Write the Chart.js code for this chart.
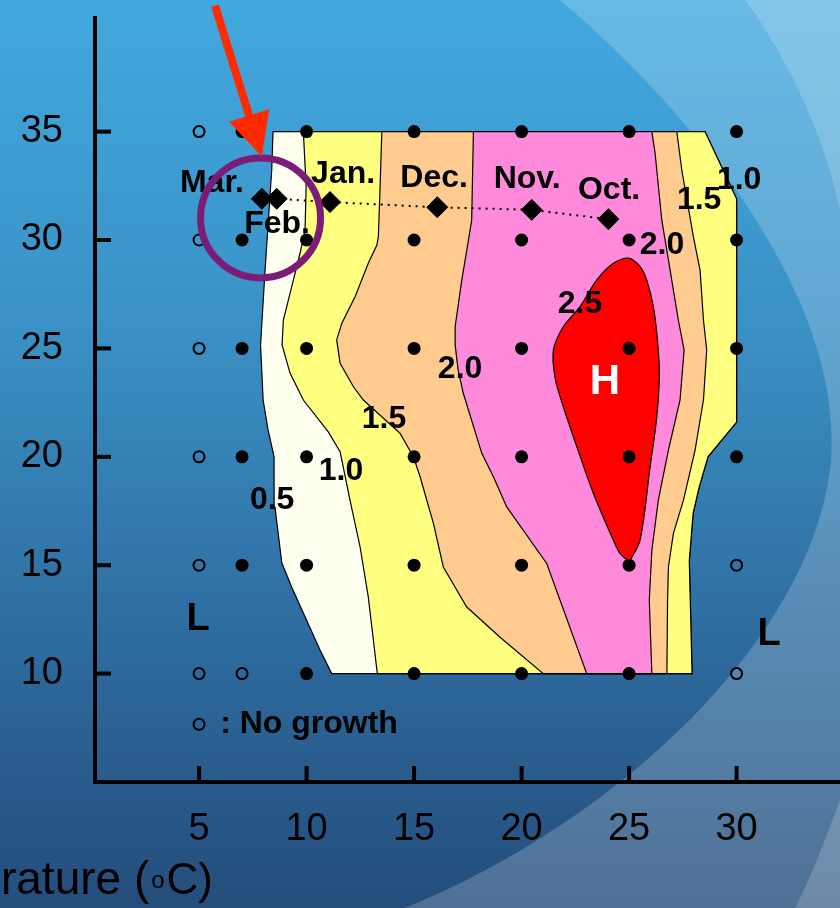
<!DOCTYPE html>
<html lang="en">
<head>
<meta charset="UTF-8">
<title>Growth contour by temperature</title>
<script src="https://cdn.jsdelivr.net/npm/chart.js"></script>
<style>
  html, body { margin: 0; padding: 0; background: #2f6ea3; overflow: hidden; }
  #chart { display: block; }
</style>
</head>
<body>
<canvas id="chart" width="840" height="908"></canvas>
<script>
// axis ticks
const xTicks = [5, 10, 15, 20, 25, 30];
const yTicks = [10, 15, 20, 25, 30, 35];

// culture grid: filled = growth, open = no growth
const grown = [
  [7, 35], [10, 35], [15, 35], [20, 35], [25, 35], [30, 35],
  [7, 30], [10, 30], [15, 30], [20, 30], [25, 30], [30, 30],
  [7, 25], [10, 25], [15, 25], [20, 25], [25, 25], [30, 25],
  [7, 20], [10, 20], [15, 20], [20, 20], [25, 20], [30, 20],
  [7, 15], [10, 15], [15, 15], [20, 15], [25, 15],
  [10, 10], [15, 10], [20, 10], [25, 10]
];
const noGrowth = [[5, 35], [5, 30], [5, 25], [5, 20], [5, 15], [5, 10], [7, 10], [30, 15], [30, 10]];
const legendMarker = [[5, 7.66]];

// monthly field conditions
const months = ['Mar.', 'Feb.', 'Jan.', 'Dec.', 'Nov.', 'Oct.'];
const monthX = [7.92, 8.61, 11.09, 16.08, 20.47, 24.04];
const monthY = [31.90, 31.90, 31.75, 31.51, 31.39, 30.96];
const monthLabelX = [5.60, 8.63, 11.70, 15.93, 20.26, 24.07];
const monthLabelY = [32.64, 30.74, 33.05, 32.87, 32.82, 32.31];

// contour levels (outline of each filled band)
const contour05 = [[8.44, 35], [28.53, 35], [30.0, 31.9], [30.0, 21.6], [28.67, 20.0], [28.26, 18.6], [27.98, 17.4], [27.8, 15.2], [27.93, 10], [11.17, 10], [10.63, 11.08], [9.31, 13.98], [8.85, 15.1], [8.53, 17.68], [8.49, 20.0], [8.21, 21.23], [7.98, 22.62], [7.86, 25.16], [8.07, 28.62], [8.38, 33.24], [8.44, 35]];
const contour10 = [[9.85, 35], [28.53, 35], [30.0, 31.9], [30.0, 21.6], [28.67, 20.0], [28.26, 18.6], [27.98, 17.4], [27.8, 15.2], [27.93, 10], [13.29, 10], [12.87, 13.54], [12.49, 15.84], [12.02, 18.0], [11.56, 20.23], [11.01, 21.15], [9.85, 22.62], [9.23, 23.86], [8.86, 25.16], [8.92, 26.31], [9.31, 27.85], [9.70, 29.40], [9.93, 30.47], [9.98, 32.47], [9.85, 35]];
const contour15 = [[13.50, 35], [27.22, 35], [27.45, 33.24], [27.99, 30.16], [28.30, 28.62], [28.46, 26.31], [28.61, 24.93], [28.46, 22.62], [28.07, 20.31], [27.53, 18.0], [27.06, 16.46], [26.83, 14.92], [26.79, 13.38], [26.76, 10], [21.01, 10], [19.0, 11.68], [17.45, 13.07], [16.36, 14.92], [15.90, 16.93], [15.28, 19.08], [14.97, 20.0], [14.35, 21.08], [12.64, 22.62], [12.18, 23.23], [11.56, 24.31], [11.40, 25.39], [11.64, 26.16], [12.26, 27.39], [12.87, 28.93], [13.27, 29.77], [13.34, 30.16], [13.42, 32.47], [13.50, 35]];
const contour20 = [[17.76, 35], [26.06, 35], [26.21, 34.0], [26.52, 30.93], [26.83, 29.08], [27.29, 26.31], [27.56, 24.93], [27.37, 22.62], [26.83, 20.31], [26.36, 18.0], [26.06, 15.69], [25.94, 13.38], [26.06, 10], [23.03, 10], [21.17, 15.08], [19.31, 17.69], [18.69, 19.08], [18.15, 20.16], [17.29, 22.93], [17.05, 24.0], [16.91, 25.16], [16.91, 26.0], [17.22, 28.16], [17.53, 30.0], [17.68, 30.93], [17.76, 35]];
const contour25 = [[25.01, 15.15], [25.51, 16.15], [25.98, 19.54], [26.29, 21.85], [26.41, 23.85], [26.32, 25.39], [26.13, 26.93], [25.82, 28.16], [25.51, 28.77], [24.97, 29.16], [24.27, 28.93], [23.50, 28.16], [22.72, 26.93], [21.94, 26.0], [21.48, 24.93], [21.56, 23.63], [21.94, 22.31], [22.57, 20.46], [23.34, 18.31], [24.27, 16.15], [24.58, 15.54], [25.01, 15.15]];

// text annotations (data coordinates)
const contourLabels = ['1.0', '1.5', '2.0', '2.5', '2.0', '1.5', '1.0', '0.5'];
const contourLabelX = [30.12, 28.26, 26.53, 22.72, 17.14, 13.60, 11.60, 8.40];
const contourLabelY = [32.77, 31.85, 29.77, 27.05, 24.05, 21.74, 19.34, 18.0];

const FONT = '"Liberation Sans", Arial, Helvetica, sans-serif';
const pts = a => a.map(([x, y]) => ({ x, y }));

function band(data, color, order, tension) {
  return {
    data: pts(data),
    showLine: true,
    fill: 'shape',
    backgroundColor: color,
    borderColor: '#000',
    borderWidth: 1.2,
    pointRadius: 0,
    tension: tension || 0,
    order: order
  };
}

// background with the light swirls
const backdrop = {
  id: 'backdrop',
  beforeDraw(chart) {
    const { ctx, width, height } = chart;
    ctx.save();
    const g = ctx.createLinearGradient(0, 0, 0, height);
    g.addColorStop(0, '#41a9df');
    g.addColorStop(0.35, '#3a92c6');
    g.addColorStop(0.7, '#2e6ca0');
    g.addColorStop(1, '#244d7b');
    ctx.fillStyle = g;
    ctx.fillRect(0, 0, width, height);

    ctx.beginPath();
    ctx.moveTo(560, 0);
    ctx.bezierCurveTo(690, 110, 850, 300, 830, 470);
    ctx.bezierCurveTo(808, 640, 620, 820, 405, 908);
    ctx.lineTo(840, 908);
    ctx.lineTo(840, 0);
    ctx.closePath();
    ctx.fillStyle = 'rgba(255,255,255,0.2)';
    ctx.fill();

    ctx.beginPath();
    ctx.moveTo(745, 0);
    ctx.bezierCurveTo(790, 60, 825, 140, 840, 210);
    ctx.lineTo(840, 0);
    ctx.closePath();
    ctx.moveTo(840, 800);
    ctx.bezierCurveTo(825, 840, 810, 880, 795, 908);
    ctx.lineTo(840, 908);
    ctx.closePath();
    ctx.fillStyle = 'rgba(255,255,255,0.18)';
    ctx.fill();
    ctx.restore();
  }
};

// inward tick marks, annotations, arrow and circle
const overlay = {
  id: 'overlay',
  afterDatasetsDraw(chart) {
    const { ctx, chartArea, scales: { x, y } } = chart;
    ctx.save();
    ctx.strokeStyle = '#000';
    ctx.lineWidth = 4;
    xTicks.forEach(v => {
      const px = x.getPixelForValue(v);
      ctx.beginPath();
      ctx.moveTo(px, chartArea.bottom);
      ctx.lineTo(px, chartArea.bottom - 16);
      ctx.stroke();
    });
    yTicks.forEach(v => {
      const py = y.getPixelForValue(v);
      ctx.beginPath();
      ctx.moveTo(chartArea.left, py);
      ctx.lineTo(chartArea.left + 16, py);
      ctx.stroke();
    });

    ctx.fillStyle = '#000';
    ctx.textAlign = 'center';
    ctx.textBaseline = 'middle';
    ctx.font = 'bold 32px ' + FONT;
    months.forEach((m, i) => ctx.fillText(m, x.getPixelForValue(monthLabelX[i]), y.getPixelForValue(monthLabelY[i])));
    contourLabels.forEach((t, i) => ctx.fillText(t, x.getPixelForValue(contourLabelX[i]), y.getPixelForValue(contourLabelY[i])));

    ctx.font = 'bold 38px ' + FONT;
    ctx.fillText('L', x.getPixelForValue(4.95), y.getPixelForValue(12.51));
    ctx.fillText('L', x.getPixelForValue(31.51), y.getPixelForValue(11.81));

    ctx.fillStyle = '#fff';
    ctx.font = 'bold 42px ' + FONT;
    ctx.fillText('H', x.getPixelForValue(23.88), y.getPixelForValue(23.45));

    ctx.fillStyle = '#000';
    ctx.font = 'bold 32px ' + FONT;
    ctx.textAlign = 'left';
    ctx.fillText(': No growth', x.getPixelForValue(5.98), y.getPixelForValue(7.66));

    // purple ring around Feb./Mar.
    ctx.beginPath();
    ctx.arc(x.getPixelForValue(7.86), y.getPixelForValue(31.02), 60, 0, Math.PI * 2);
    ctx.strokeStyle = '#7a1c78';
    ctx.lineWidth = 7;
    ctx.stroke();

    // red arrow
    const tx = x.getPixelForValue(5.74), ty = y.getPixelForValue(40.81);
    const hx = x.getPixelForValue(7.92), hy = y.getPixelForValue(33.85);
    const len = Math.hypot(hx - tx, hy - ty);
    const ux = (hx - tx) / len, uy = (hy - ty) / len;
    const headLen = 43, headHalf = 21;
    const bx = hx - ux * headLen, by = hy - uy * headLen;
    ctx.strokeStyle = '#ff2a00';
    ctx.fillStyle = '#ff2a00';
    ctx.lineWidth = 8;
    ctx.beginPath();
    ctx.moveTo(tx, ty);
    ctx.lineTo(bx + ux * 2, by + uy * 2);
    ctx.stroke();
    ctx.beginPath();
    ctx.moveTo(hx, hy);
    ctx.lineTo(bx - uy * headHalf, by + ux * headHalf);
    ctx.lineTo(bx + uy * headHalf, by - ux * headHalf);
    ctx.closePath();
    ctx.fill();

    // x axis title (partly off the canvas, as in the original)
    ctx.fillStyle = '#000';
    ctx.textAlign = 'right';
    ctx.textBaseline = 'alphabetic';
    ctx.font = '44px ' + FONT;
    let right = 213;
    ctx.fillText('C)', right, 894);
    right -= ctx.measureText('C)').width;
    ctx.font = '24px ' + FONT;
    ctx.fillText('o', right - 2, 888);
    right -= ctx.measureText('o').width + 4;
    ctx.font = '46px ' + FONT;
    ctx.fillText('Temperature (', right, 894);
    ctx.restore();
  }
};

new Chart(document.getElementById('chart'), {
  type: 'scatter',
  data: {
    datasets: [
      band(contour05, '#fffff0', 10),
      band(contour10, '#ffff80', 9),
      band(contour15, '#ffcb8e', 8),
      band(contour20, '#ff89da', 7),
      band(contour25, '#ff0000', 6, 0.3),
      {
        data: monthX.map((v, i) => ({ x: v, y: monthY[i] })),
        showLine: true,
        borderColor: '#000',
        borderWidth: 2,
        borderDash: [2, 5],
        pointStyle: 'rectRot',
        pointRadius: 10.5,
        pointBackgroundColor: '#000',
        pointBorderColor: '#000',
        pointBorderWidth: 1,
        order: 2
      },
      {
        data: pts(grown),
        pointRadius: 6.5,
        pointBackgroundColor: '#000',
        pointBorderWidth: 0,
        order: 1
      },
      {
        data: pts(noGrowth.concat(legendMarker)),
        pointRadius: 5.5,
        pointBackgroundColor: 'rgba(0,0,0,0)',
        pointBorderColor: '#000',
        pointBorderWidth: 2,
        order: 1
      }
    ]
  },
  options: {
    responsive: false,
    animation: false,
    devicePixelRatio: 1,
    layout: { autoPadding: false, padding: { top: 18, left: 0, right: 0, bottom: 0 } },
    plugins: {
      legend: { display: false },
      tooltip: { enabled: false }
    },
    scales: {
      x: {
        type: 'linear',
        min: 0.16,
        max: 34.81,
        afterBuildTicks: s => { s.ticks = xTicks.map(v => ({ value: v })); },
        afterFit: s => { s.height = 126; s.paddingLeft = 0; s.paddingRight = 0; },
        border: { display: true, color: '#000', width: 4 },
        grid: { display: true, drawOnChartArea: false, drawTicks: false },
        ticks: { color: '#000', font: { family: FONT, size: 38 }, padding: 25, maxRotation: 0 }
      },
      y: {
        type: 'linear',
        min: 5,
        max: 40.24,
        afterBuildTicks: s => { s.ticks = yTicks.map(v => ({ value: v })); },
        afterFit: s => { s.width = 95; s.paddingTop = 0; s.paddingBottom = 0; },
        border: { display: true, color: '#000', width: 4 },
        grid: { display: true, drawOnChartArea: false, drawTicks: false },
        ticks: { color: '#000', font: { family: FONT, size: 38 }, padding: 32 }
      }
    }
  },
  plugins: [backdrop, overlay]
});
</script>
</body>
</html>
